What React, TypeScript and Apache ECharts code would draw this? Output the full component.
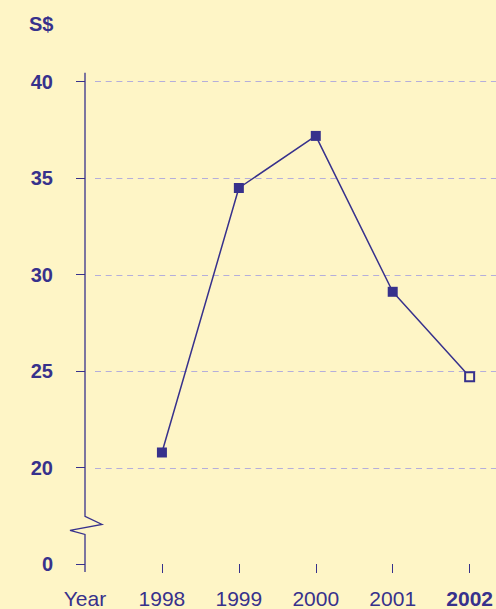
import React, { useEffect, useRef } from "react";
import * as echarts from "echarts";

const categories = ["Year", "1998", "1999", "2000", "2001", "2002"];
const prices: (number | null)[] = [null, 20.78, 34.49, 37.19, 29.11, 24.71];
const yTickLabels: Record<number, string> = { 15: "0", 20: "20", 25: "25", 30: "30", 35: "35", 40: "40" };
const unitLabel = "S$";
const estimateIndex = 5;

const BG = "#fef5c6";
const INK = "#37318c";
const GRID = "#b4aedb";
const FONT = "'Liberation Sans', Arial, Helvetica, sans-serif";

export default function App() {
  const ref = useRef<HTMLDivElement>(null);
  useEffect(() => {
    document.body.style.margin = "0";
    const chart = echarts.init(ref.current!, null, { renderer: "svg" });
    const gridTop = 81.7;
    const gridBottom = 44;
    chart.setOption({
      animation: false,
      backgroundColor: BG,
      grid: [
        { left: 85, right: 23, top: gridTop, bottom: gridBottom },
        { left: 95, right: 0, top: gridTop, bottom: gridBottom },
      ],
      xAxis: [
        {
          type: "category",
          gridIndex: 0,
          data: categories,
          boundaryGap: false,
          axisLine: { show: false },
          axisTick: {
            show: true,
            length: 9,
            interval: (i: number) => i > 0,
            lineStyle: { color: INK, width: 1 },
          },
          axisLabel: {
            interval: 0,
            margin: 24,
            fontSize: 21,
            fontFamily: FONT,
            color: INK,
            formatter: (v: string, i: number) => (i === estimateIndex ? "{b|" + v + "}" : v),
            rich: { b: { fontWeight: "bold", fontSize: 21, fontFamily: FONT, color: INK } },
          },
          splitLine: { show: false },
        },
        { type: "value", gridIndex: 1, show: false, min: 0, max: 1 },
      ],
      yAxis: [
        {
          type: "value",
          gridIndex: 0,
          min: 15,
          max: 40,
          interval: 5,
          axisLine: { show: false },
          axisTick: { show: true, length: 9, lineStyle: { color: INK, width: 1 } },
          axisLabel: {
            margin: 32,
            fontSize: 20,
            fontWeight: "bold",
            fontFamily: FONT,
            color: INK,
            formatter: (v: number) => yTickLabels[v] ?? "",
          },
          splitLine: { show: false },
        },
        {
          type: "value",
          gridIndex: 1,
          min: 15,
          max: 40,
          interval: 5,
          axisLine: { show: false },
          axisTick: { show: false },
          axisLabel: { show: false },
          splitLine: {
            show: true,
            showMinLine: false,
            lineStyle: { color: GRID, type: [6, 4.7], width: 1.2 },
          },
        },
      ],
      series: [
        {
          type: "line",
          xAxisIndex: 0,
          yAxisIndex: 0,
          data: prices.map((v, i) =>
            i === estimateIndex
              ? {
                  value: v,
                  symbolSize: 9,
                  itemStyle: { color: BG, borderColor: INK, borderWidth: 2 },
                }
              : v
          ),
          symbol: "rect",
          symbolSize: 10,
          lineStyle: { color: INK, width: 1.5 },
          itemStyle: { color: INK },
          z: 5,
        },
      ],
    });

    const ax = chart.convertToPixel({ xAxisIndex: 0 }, "Year") as number;
    const yTop = chart.convertToPixel({ yAxisIndex: 0 }, 40) as number;
    const yZero = chart.convertToPixel({ yAxisIndex: 0 }, 15) as number;
    const yBreak = chart.convertToPixel({ yAxisIndex: 0 }, 17) as number;
    chart.setOption({
      graphic: [
        {
          type: "polyline",
          shape: {
            points: [
              [ax, yTop - 9],
              [ax, yBreak - 9],
              [ax + 17, yBreak - 1],
              [ax - 15, yBreak + 5],
              [ax, yBreak + 9],
              [ax, yZero + 8],
            ],
          },
          style: { stroke: INK, lineWidth: 1.3, fill: null },
          z: 10,
        },
        {
          type: "text",
          left: 29,
          top: 14,
          style: {
            text: unitLabel,
            font: "bold 20px " + FONT,
            fill: INK,
          },
        },
      ],
    });
    return () => chart.dispose();
  }, []);
  return (
    <div
      ref={ref}
      style={{ position: "absolute", left: 0, top: 0, width: 496, height: 609 }}
    />
  );
}
